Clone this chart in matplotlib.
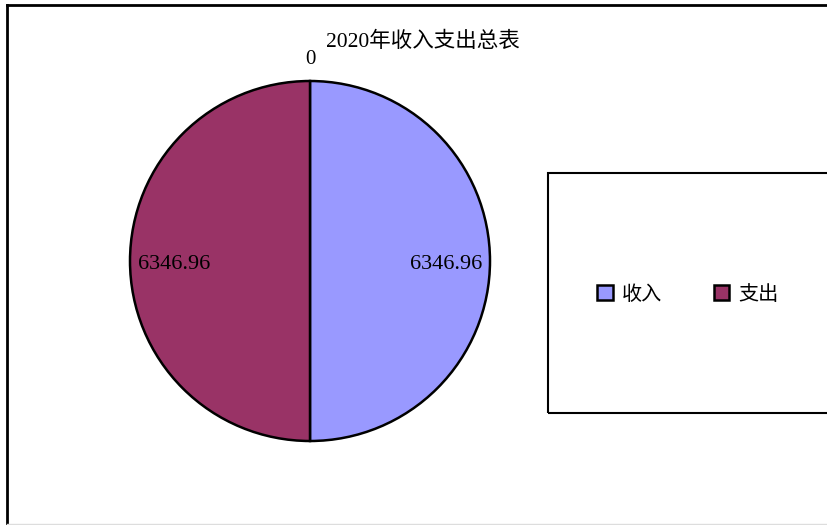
import numpy as np
import matplotlib
matplotlib.use("Agg")
import matplotlib.pyplot as plt
from matplotlib.patches import Rectangle
from matplotlib.lines import Line2D

plt.rcParams['font.family'] = ['Liberation Serif', 'Noto Sans CJK SC', 'DejaVu Sans']

title = '2020年收入支出总表'
categories = ['收入', '支出']
values = [6346.96, 6346.96]
extra_label = '0'
colors = ['#9999FF', '#993366']

W, H = 828, 525
fig = plt.figure(figsize=(W / 100, H / 100), dpi=100)

# pie area: center (310, 261) px from top, radius 180 px
cx, cy, r = 310, H - 261, 180
ax = fig.add_axes([(cx - r) / W, (cy - r) / H, 2 * r / W, 2 * r / H])
wedges, _ = ax.pie(values, colors=colors, startangle=90, counterclock=False,
                   wedgeprops=dict(edgecolor='black', linewidth=1.8))
ax.set_xlim(-1, 1)
ax.set_ylim(-1, 1)
ax.axis('off')

# value labels just inside the rim
for w, v in zip(wedges, values):
    theta = np.deg2rad((w.theta1 + w.theta2) / 2)
    x, y = 0.956 * np.cos(theta), 0.956 * np.sin(theta)
    ax.text(x, y - 0.018, f'{v:.2f}', ha='right' if x > 0 else 'left', va='center',
            fontsize=16, clip_on=False)

ax.text(0, 1.12, extra_label, ha='center', va='center', fontsize=15, clip_on=False)

fig.text(423 / W, 1 - 42 / H, title, ha='center', va='center', fontsize=15.5)

# legend box (runs off the right edge)
fig.patches.append(Rectangle((548 / W, 1 - 413 / H), 300 / W, 240 / H,
                             transform=fig.transFigure, fill=False,
                             edgecolor='black', linewidth=1.5))
fig.legend(wedges, categories, ncol=2, loc='center',
           bbox_to_anchor=(688 / W, 1 - 295 / H), frameon=False,
           fontsize=14.5, handlelength=0.75, handleheight=0.75,
           handletextpad=0.45, columnspacing=2.6)

# outer chart border (top and left visible)
fig.add_artist(Line2D([7 / W, 1], [1 - 5 / H, 1 - 5 / H], color='black',
                      linewidth=2, transform=fig.transFigure))
fig.add_artist(Line2D([7 / W, 7 / W], [0, 1 - 5 / H], color='black',
                      linewidth=2, transform=fig.transFigure))
fig.add_artist(Line2D([7 / W, 1], [1.5 / H, 1.5 / H], color='#dddddd',
                      linewidth=1, transform=fig.transFigure))

fig.savefig('out.png', dpi=100)
